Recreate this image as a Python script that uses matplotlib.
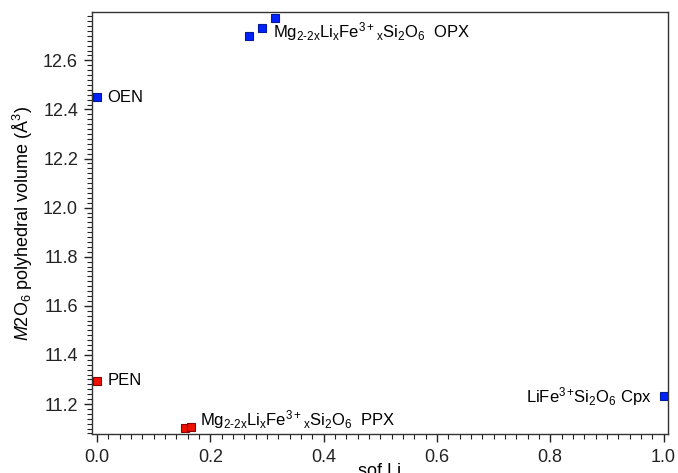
import matplotlib
matplotlib.use("Agg")
import matplotlib.pyplot as plt
from matplotlib.ticker import MultipleLocator, FormatStrFormatter

plt.rcParams['font.family'] = ['Liberation Sans', 'DejaVu Sans']
plt.rcParams['mathtext.fontset'] = 'custom'
plt.rcParams['mathtext.rm'] = 'Liberation Sans'
plt.rcParams['mathtext.it'] = 'Liberation Sans:italic'
plt.rcParams['mathtext.bf'] = 'Liberation Sans:bold'

# --- data ---
opx_li = [0.269, 0.291, 0.314]
opx_vol = [12.700, 12.730, 12.774]
ppx_li = [0.156, 0.166]
ppx_vol = [11.103, 11.106]
oen_li, oen_vol = [0.0], [12.45]
pen_li, pen_vol = [0.0], [11.295]
cpx_li, cpx_vol = [1.0], [11.232]

mg_formula = r"$\mathrm{Mg_{2\text{-}2x}Li_{x}Fe^{3+}{}_{x}Si_{2}O_{6}}$"
cpx_formula = r"$\mathrm{LiFe^{3+}\!Si_{2}O_{6}}$"

fig = plt.figure(figsize=(6.78, 4.73), dpi=100)
ax = fig.add_axes([0.1357, 0.0825, 0.8496, 0.8921])

blue = dict(marker='s', ms=6, ls='none', mfc='#0022ff', mec='#001a99', mew=0.8)
red = dict(marker='s', ms=6, ls='none', mfc='#ee1100', mec='#880000', mew=0.8)

ax.plot(opx_li, opx_vol, **blue)
ax.plot(oen_li, oen_vol, **blue)
ax.plot(cpx_li, cpx_vol, **blue)
ax.plot(ppx_li, ppx_vol, **red)
ax.plot(pen_li, pen_vol, **red)

fs = 12
ax.text(0.018, 12.45, "OEN", fontsize=fs, va='center', ha='left')
ax.text(0.018, 11.295, "PEN", fontsize=fs, va='center', ha='left')
ax.text(0.311, 12.694, mg_formula + "  OPX", fontsize=fs, va='baseline', ha='left')
ax.text(0.182, 11.114, mg_formula + "  PPX", fontsize=fs, va='baseline', ha='left')
ax.text(0.979, 11.207, cpx_formula + " Cpx", fontsize=fs, va='baseline', ha='right')

ax.set_xlim(-0.0088, 1.008)
ax.set_ylim(11.078, 12.797)

ax.xaxis.set_major_locator(MultipleLocator(0.2))
ax.xaxis.set_minor_locator(MultipleLocator(0.02))
ax.yaxis.set_major_locator(MultipleLocator(0.2))
ax.yaxis.set_minor_locator(MultipleLocator(0.02))
ax.xaxis.set_major_formatter(FormatStrFormatter('%.1f'))
ax.yaxis.set_major_formatter(FormatStrFormatter('%.1f'))

ax.tick_params(which='major', direction='out', length=6, width=1, labelsize=13,
               top=False, right=False, colors='#222222')
ax.tick_params(which='minor', direction='out', length=3.6, width=0.8,
               top=False, right=False, colors='#222222')
ax.tick_params(axis='x', which='major', pad=5)
ax.tick_params(axis='y', which='major', pad=4)
for s in ax.spines.values():
    s.set_color('#333333')
    s.set_linewidth(1.0)

ax.set_xlabel("sof Li", fontsize=13, labelpad=-2)
ax.set_ylabel(r"$\mathit{M}$2O$_{\mathrm{6}}$ polyhedral volume (Å$^{\mathrm{3}}$)",
              fontsize=13, labelpad=6)

fig.savefig("out.png", dpi=100)
